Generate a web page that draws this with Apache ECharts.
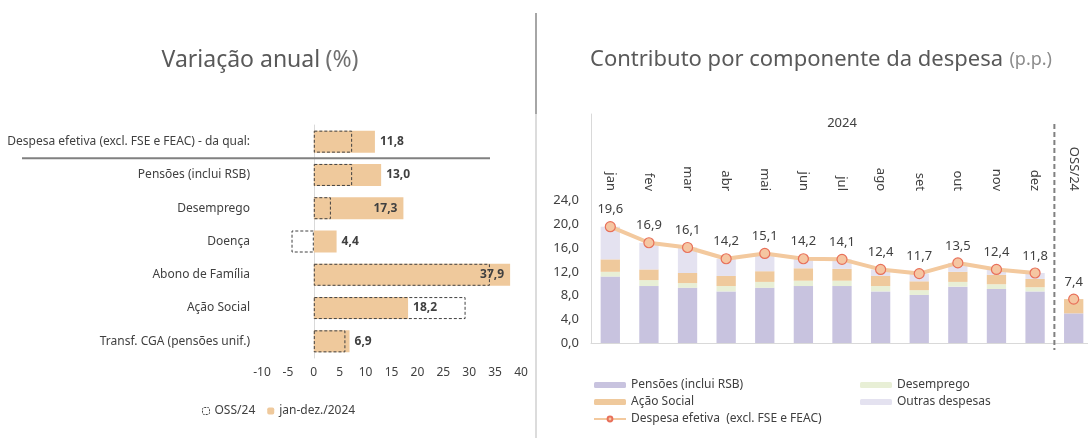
<!DOCTYPE html>
<html>
<head>
<meta charset="utf-8">
<script src="https://cdn.jsdelivr.net/npm/echarts@6/dist/echarts.min.js"></script>
<style>
html, body { margin: 0; padding: 0; background: #fff; }
#chart { width: 1088px; height: 438px; }
</style>
</head>
<body>
<div id="chart"></div>
<script>
// variação anual (%)
const rubricas = [
  'Despesa efetiva (excl. FSE e FEAC) - da qual:',
  'Pensões (inclui RSB)',
  'Desemprego',
  'Doença',
  'Abono de Família',
  'Ação Social',
  'Transf. CGA (pensões unif.)'
];
const varOss = [7.4, 7.4, 3.3, -4.3, 34.0, 29.3, 6.1];
const varAno = [11.8, 13.0, 17.3, 4.4, 37.9, 18.2, 6.9];
const varMin = -10, varMax = 40, varStep = 5;

// contributo por componente (p.p.)
const meses = ['jan', 'fev', 'mar', 'abr', 'mai', 'jun', 'jul', 'ago', 'set', 'out', 'nov', 'dez', 'OSS/24'];
const pensoes = [11.2, 9.6, 9.3, 8.7, 9.3, 9.6, 9.6, 8.7, 8.1, 9.5, 9.1, 8.7, 5.0];
const desemprego = [0.8, 1.0, 0.8, 0.9, 1.0, 0.9, 0.9, 0.9, 0.8, 0.8, 0.8, 0.7, 0.0];
const acaoSocial = [2.1, 1.8, 1.7, 1.7, 1.8, 2.1, 2.0, 1.7, 1.5, 1.7, 1.6, 1.4, 2.4];
const outras = [5.5, 4.5, 4.3, 2.9, 3.0, 1.6, 1.6, 1.1, 1.3, 1.5, 0.9, 1.0, 0.0];
const despesa = [19.6, 16.9, 16.1, 14.2, 15.1, 14.2, 14.1, 12.4, 11.7, 13.5, 12.4, 11.8, 7.4];
const contribTicks = ['0,0', '4,0', '8,0', '12,0', '16,0', '20,0', '24,0'];

const virgula = (v, d) => v.toFixed(d).replace('.', ',');
const txt = '#404040';
const font = 'Noto Sans';
const rotulosDentro = [2, 4]; // 17,3 e 37,9 ficam dentro da barra
const idxOss = meses.indexOf('OSS/24');
const nomeLinha = 'Despesa efetiva  (excl. FSE e FEAC)';

const serieLinha = (dados) => ({
  name: nomeLinha, type: 'line', xAxisIndex: 1, yAxisIndex: 1,
  data: dados, symbol: 'circle', symbolSize: 10,
  lineStyle: { color: '#f3c99e', width: 4 },
  itemStyle: { color: '#f5c6a2', borderColor: '#e8705a', borderWidth: 1.2 },
  label: {
    show: true, position: 'top', color: txt, fontSize: 13,
    formatter: p => virgula(p.value, 1)
  },
  z: 5
});

const getOption = () => {
  return {
    animation: false,
    textStyle: { fontFamily: font, color: txt },
    grid: [
      { left: 262, right: 567, top: 125, height: 233, outerBoundsMode: 'none', containLabel: false },
      { left: 591, right: -5, top: 114, bottom: 95, outerBoundsMode: 'none', containLabel: false }
    ],
    xAxis: [
      {
        gridIndex: 0, type: 'value', min: varMin, max: varMax, interval: varStep,
        axisLine: { show: false }, axisTick: { show: false }, splitLine: { show: false },
        axisLabel: { color: txt, fontSize: 12, margin: 9 }
      },
      {
        gridIndex: 1, type: 'category', data: meses,
        axisLine: { lineStyle: { color: '#d9d9d9', width: 1 } },
        axisTick: { show: false }, axisLabel: { show: false }
      },
      {
        gridIndex: 1, type: 'category', data: meses, position: 'top', offset: -79,
        axisLine: { show: false }, axisTick: { show: false },
        axisLabel: { rotate: 90, margin: 2, color: txt, fontSize: 13, interval: 0 }
      }
    ],
    yAxis: [
      {
        gridIndex: 0, type: 'category', data: rubricas, inverse: true,
        axisLine: { onZero: true, lineStyle: { color: '#d9d9d9', width: 1 } },
        axisTick: { show: false },
        axisLabel: { color: txt, fontSize: 12, margin: 12 }
      },
      {
        gridIndex: 1, type: 'value', min: 0, max: 38.6, interval: 4,
        axisLine: { show: true, lineStyle: { color: '#d9d9d9', width: 1 } },
        axisTick: { show: false }, splitLine: { show: false },
        axisLabel: {
          color: txt, fontSize: 13, margin: 12,
          formatter: v => contribTicks[Math.round(v / 4)] || ''
        }
      }
    ],
    legend: [
      {
        left: 197, top: 400, itemWidth: 7, itemHeight: 7, itemGap: 12,
        data: [
          { name: 'OSS/24', itemStyle: { borderType: [2, 1], borderWidth: 1, borderColor: txt } },
          'jan-dez./2024'
        ],
        textStyle: { color: txt, fontSize: 12, fontFamily: font }
      },
      {
        left: 588, top: 374, orient: 'vertical', itemWidth: 32, itemHeight: 6, itemGap: 5,
        data: ['Pensões (inclui RSB)', 'Ação Social', nomeLinha],
        textStyle: { color: txt, fontSize: 12, fontFamily: font }
      },
      {
        left: 855, top: 374, orient: 'vertical', itemWidth: 32, itemHeight: 6, itemGap: 5,
        data: ['Desemprego', 'Outras despesas'],
        textStyle: { color: txt, fontSize: 12, fontFamily: font }
      }
    ],
    series: [
      {
        name: 'jan-dez./2024', type: 'bar', xAxisIndex: 0, yAxisIndex: 0,
        barWidth: 22, barGap: '-100%',
        itemStyle: { color: '#efc99c' },
        data: varAno.map((v, i) => ({
          value: v,
          label: rotulosDentro.includes(i) ? { position: 'insideRight', distance: 6 } : {}
        })),
        label: {
          show: true, position: 'right', distance: 5, color: txt, fontSize: 12, fontWeight: 'bold',
          formatter: p => virgula(p.value, 1)
        }
      },
      {
        name: 'OSS/24', type: 'bar', xAxisIndex: 0, yAxisIndex: 0,
        barWidth: 22, barGap: '-100%',
        itemStyle: { color: 'rgba(255,255,255,0)', borderColor: '#404040', borderWidth: 1, borderType: [3, 2] },
        data: varOss
      },
      {
        name: 'Pensões (inclui RSB)', type: 'bar', stack: 'c', xAxisIndex: 1, yAxisIndex: 1,
        barWidth: '50%', itemStyle: { color: '#c8c3df' }, data: pensoes
      },
      {
        name: 'Desemprego', type: 'bar', stack: 'c', xAxisIndex: 1, yAxisIndex: 1,
        itemStyle: { color: '#e8efd6' }, data: desemprego
      },
      {
        name: 'Ação Social', type: 'bar', stack: 'c', xAxisIndex: 1, yAxisIndex: 1,
        itemStyle: { color: '#efc99c' }, data: acaoSocial
      },
      {
        name: 'Outras despesas', type: 'bar', stack: 'c', xAxisIndex: 1, yAxisIndex: 1,
        itemStyle: { color: '#e4e2f0' }, data: outras
      },
      // a linha mensal não liga ao ponto OSS/24
      serieLinha(despesa.map((v, i) => (i === idxOss ? '-' : v))),
      serieLinha(despesa.map((v, i) => (i === idxOss ? v : '-')))
    ]
  };
};

const iniciarChart = () => {
  const chart = echarts.init(document.getElementById('chart'));
  chart.setOption(getOption());

  // posições de linhas auxiliares a partir dos eixos
  const y0 = chart.convertToPixel({ yAxisIndex: 0 }, rubricas[0]);
  const y1 = chart.convertToPixel({ yAxisIndex: 0 }, rubricas[1]);
  const xDez = chart.convertToPixel({ xAxisIndex: 1 }, 'dez');
  const xOss = chart.convertToPixel({ xAxisIndex: 1 }, 'OSS/24');
  const ySep = (y0 + y1) / 2;
  const xSep = (xDez + xOss) / 2;

  chart.setOption({
    graphic: [
      {
        type: 'text', style: {
          text: '{a|Variação anual} {b|(%)}', x: 260, y: 60,
          align: 'center', verticalAlign: 'middle', textAlign: 'center', textVerticalAlign: 'middle',
          rich: {
            a: { fontSize: 23, fontFamily: font, fill: '#595959', color: '#595959' },
            b: { fontSize: 23, fontFamily: font, fill: '#6f6f6f', color: '#6f6f6f', padding: [0, 0, 0, 2] }
          }
        }
      },
      {
        type: 'text', style: {
          text: '{a|Contributo por componente da despesa} {b|(p.p.)}', x: 821, y: 60,
          align: 'center', verticalAlign: 'middle', textAlign: 'center', textVerticalAlign: 'middle',
          rich: {
            a: { fontSize: 22, fontFamily: font, fill: '#595959', color: '#595959' },
            b: { fontSize: 18, fontFamily: font, fill: '#8c8c8c', color: '#8c8c8c', padding: [0, 0, 0, 3] }
          }
        }
      },
      {
        type: 'text', style: {
          text: '2024', x: 842, y: 123, font: '13px "Noto Sans"', fill: txt,
          align: 'center', verticalAlign: 'middle', textAlign: 'center', textVerticalAlign: 'middle'
        }
      },
      {
        type: 'line', shape: { x1: 22, y1: ySep, x2: 490, y2: ySep },
        style: { stroke: '#808080', lineWidth: 2 }, z: 10
      },
      {
        type: 'line', shape: { x1: xSep, y1: 124, x2: xSep, y2: 350 },
        style: { stroke: '#808080', lineWidth: 2, lineDash: [5, 3] }, z: 10
      },
      {
        type: 'line', shape: { x1: 536, y1: 13, x2: 536, y2: 114 },
        style: { stroke: '#a6a6a6', lineWidth: 2 }
      },
      {
        type: 'line', shape: { x1: 536, y1: 114, x2: 536, y2: 438 },
        style: { stroke: '#d0d0d0', lineWidth: 1.5 }
      }
    ]
  });
};

window.addEventListener('load', () => {
  iniciarChart();
});
</script>
</body>
</html>
